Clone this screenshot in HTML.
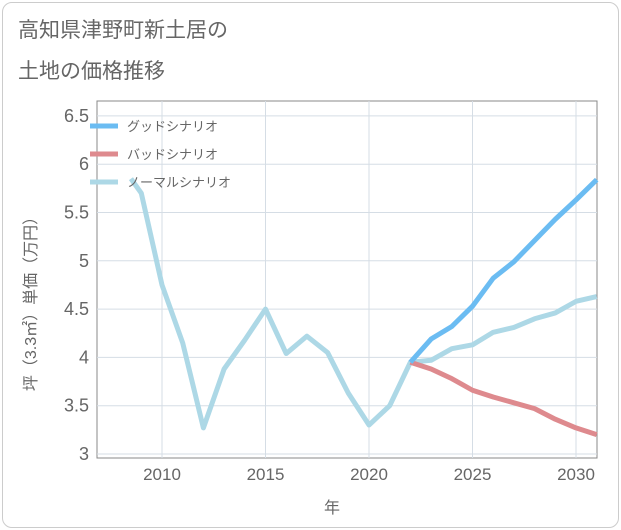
<!DOCTYPE html>
<html><head><meta charset="utf-8"><style>
body{margin:0;background:#fff;font-family:"Liberation Sans","Noto Sans CJK JP",sans-serif;}
#card{position:absolute;left:2px;top:2px;width:615px;height:524px;border:1px solid #ccc;border-radius:10px;background:#fff;}
</style></head><body>
<div id="card"></div>
<svg id="chart" width="621" height="530" style="position:absolute;left:0;top:0">
<text x="18" y="37" font-size="21" fill="#666">高知県津野町新土居の</text>
<text x="18" y="78" font-size="21" fill="#666">土地の価格推移</text>
<rect x="97" y="101" width="500" height="357" fill="none" stroke="#888"/>
<g id="grid"></g><g id="series"></g><g id="legend"></g>
<text x="332" y="513" font-size="16" fill="#666" text-anchor="middle">年</text>
<text transform="translate(36,300) rotate(-90)" font-size="16" fill="#666" text-anchor="middle">坪（3.3㎡）単価（万円）</text>
</svg>
<script>
const yTicks=[3,3.5,4,4.5,5,5.5,6,6.5];
const xTicks=[2010,2015,2020,2025,2030];
const normalYears=[2008.5,2009,2010,2011,2012,2013,2014,2015,2016,2017,2018,2019,2020,2021,2022,2023,2024,2025,2026,2027,2028,2029,2030,2031];
const normalVals=[5.85,5.7,4.75,4.15,3.27,3.88,4.18,4.5,4.04,4.22,4.05,3.63,3.3,3.5,3.95,3.97,4.09,4.13,4.26,4.31,4.4,4.46,4.58,4.63];
const futureYears=[2022,2023,2024,2025,2026,2027,2028,2029,2030,2031];
const goodVals=[3.95,4.19,4.32,4.53,4.82,4.99,5.21,5.43,5.63,5.84];
const badVals=[3.95,3.88,3.78,3.66,3.59,3.53,3.47,3.36,3.27,3.2];
const NS="http://www.w3.org/2000/svg";
const X=y=>162+(y-2010)*20.7, Y=v=>454-(v-3)*96.6;
function mk(t,a,p){const e=document.createElementNS(NS,t);for(const k in a)e.setAttribute(k,a[k]);p.appendChild(e);return e;}
const g=document.getElementById('grid');
yTicks.forEach(v=>{const l=mk('line',{x1:97,x2:597,y1:Y(v),y2:Y(v),stroke:'#d5dde5'},g);


const t=mk('text',{x:89,y:Y(v)+6,'font-size':18,fill:'#666','text-anchor':'end'},g);t.textContent=v;

});
xTicks.forEach(v=>{const l=mk('line',{x1:X(v),x2:X(v),y1:101,y2:458,stroke:'#d5dde5'},g);


const t=mk('text',{x:X(v),y:480,'font-size':17,fill:'#666','text-anchor':'middle'},g);t.textContent=v;

});
const s=document.getElementById('series');
function line(xs,vs,c,n){const p=mk('polyline',{points:xs.map((x,i)=>X(x)+','+Y(vs[i])).join(' '),fill:'none',stroke:c,'stroke-width':5,'stroke-linejoin':'round'},s);

}
line(normalYears,normalVals,'#add8e6','normal-scenario-line');
line(futureYears,badVals,'#de8a8e','bad-scenario-line');
line(futureYears,goodVals,'#6bbcf2','good-scenario-line');
const lg=document.getElementById('legend');
[['グッドシナリオ','#6bbcf2'],['バッドシナリオ','#de8a8e'],['ノーマルシナリオ','#add8e6']].forEach((e,i)=>{
const y=126+i*28;
const l=mk('line',{x1:90,x2:118,y1:y,y2:y,stroke:e[1],'stroke-width':5},lg);


const t=mk('text',{x:127,y:y+5,'font-size':13,fill:'#666'},lg);t.textContent=e[0];

});
</script>
</body></html>
